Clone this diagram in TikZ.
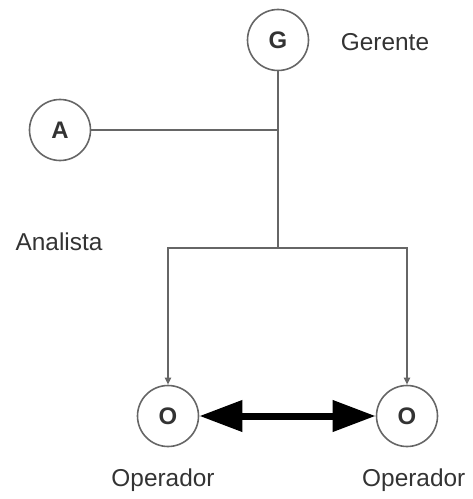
\documentclass[tikz,border=0pt]{standalone}
\usepackage{fontspec}
\setmainfont{Liberation Sans}
\usetikzlibrary{arrows.meta}
\definecolor{linegray}{HTML}{666666}
\definecolor{textgray}{HTML}{333333}
\tikzset{
  role/.style={circle, draw=linegray, line width=1.6bp, minimum size=61bp, inner sep=0pt,
    text=textgray, font=\fontsize{24}{26}\selectfont\bfseries},
  caption/.style={text=textgray, font=\fontsize{24.5}{28}\selectfont, inner sep=0pt},
  link/.style={draw=linegray, line width=1.8bp},
  feed/.style={link, -{Triangle[length=7bp,width=6bp]}},
  bond/.style={line width=7bp, {Triangle[length=43bp,width=30bp]}-{Triangle[length=43bp,width=30bp]}}
}
\begin{document}
\begin{tikzpicture}[x=1bp,y=-1bp]
  \useasboundingbox (0,0) rectangle (473,499);
  % members
  \node[role] (g) at (278,40) {G};
  \node[role] (a) at (60,130) {A};
  \node[role] (o1) at (168,416) {O};
  \node[role] (o2) at (407,416) {O};
  % role names
  \node[caption] (lg) at (385,42) {Gerente};
  \node[caption] (la) at (59,242) {Analista};
  \node[caption] (lo1) at (163,480) {Operador};
  \node[caption, anchor=west] (lo2) at (362,480) {Operador};
  % junction points of the tree
  \coordinate (ja) at (278,130);
  \coordinate (jb) at (278,248);
  % hierarchy lines
  \draw[link] (g.south) -- (jb);
  \draw[link] (a.east) -- (ja);
  \draw[feed] (jb) -| (o1.north);
  \draw[feed] (jb) -| (o2.north);
  % peer exchange between operators
  \draw[bond] (o1.east) -- (o2.west);
\end{tikzpicture}
\end{document}
